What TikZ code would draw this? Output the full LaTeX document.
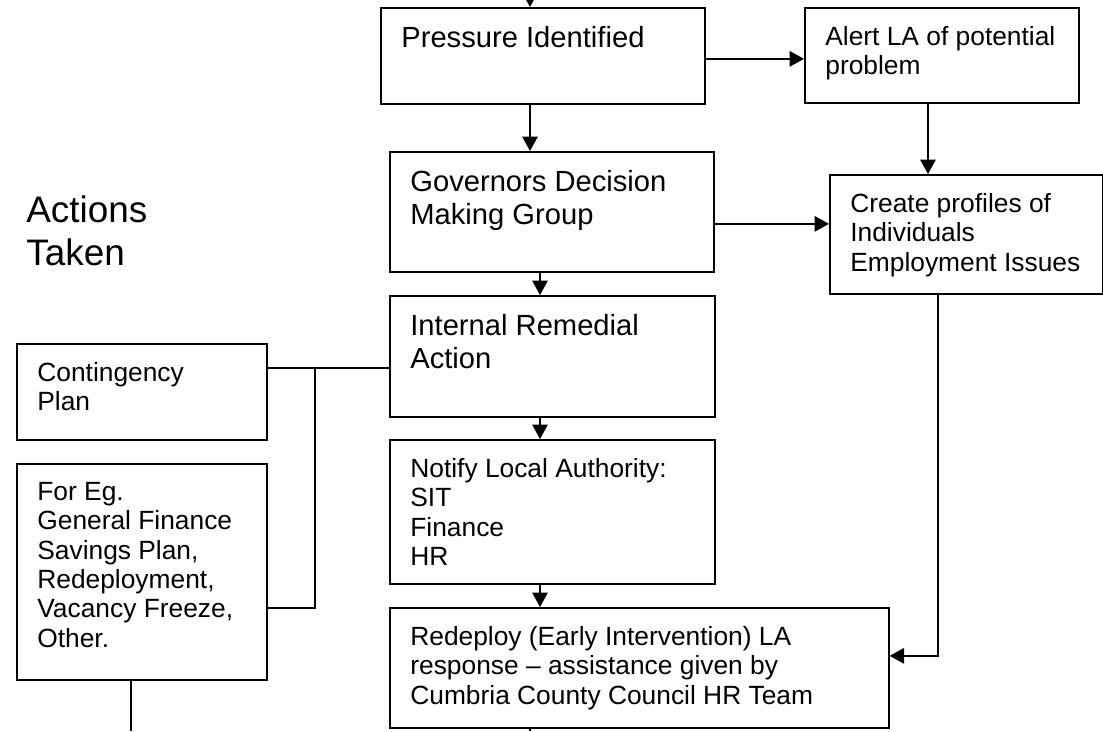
\documentclass[tikz,border=0pt]{standalone}
\usepackage{fontspec}
\setmainfont{Liberation Sans}
\usetikzlibrary{arrows.meta,calc}
\newcommand{\smalltxt}{\fontsize{15}{16.7}\selectfont}
\newcommand{\bigtxt}{\fontsize{16.6}{18.8}\selectfont}
\newcommand{\headtxt}{\fontsize{21}{24.5}\selectfont}
\tikzset{
  flowbox/.style={
    rectangle,
    draw=black,
    line width=1pt,
    anchor=north west,
    inner sep=0pt
  },
  boxtext/.style={anchor=north west, inner sep=0pt, xshift=0.42cm, yshift=-0.38cm, align=left, font=\smalltxt},
  boxtextbig/.style={boxtext, font=\bigtxt},
  flowarrow/.style={-{Triangle[length=0.29cm, width=0.31cm]}, line width=1pt, draw=black},
  flowline/.style={line width=1pt, draw=black}
}

\begin{document}
\begin{tikzpicture}[x=0.02cm, y=-0.02cm]
\useasboundingbox (0,0) rectangle (1103,731);
\node[anchor=north west, inner sep=0pt, align=left, font=\headtxt] (actions) at (26,195) {Actions\\Taken};
\node[flowbox, minimum width=6.48cm, minimum height=1.92cm, label={[boxtextbig]north west:{Pressure Identified}}] (press) at (380,7) {};
\node[flowbox, minimum width=5.48cm, minimum height=1.9cm, label={[boxtext]north west:{Alert LA of potential\\problem}}] (alert) at (804,7) {};
\node[flowbox, minimum width=6.48cm, minimum height=2.4cm, label={[boxtextbig]north west:{Governors Decision\\Making Group}}] (gov) at (389,151) {};
\node[flowbox, minimum width=5.46cm, minimum height=2.38cm, label={[boxtext]north west:{Create profiles of\\Individuals\\Employment Issues}}] (create) at (829,174) {};
\node[flowbox, minimum width=6.5cm, minimum height=2.42cm, label={[boxtextbig]north west:{Internal Remedial\\Action}}] (internal) at (389,295) {};
\node[flowbox, minimum width=6.5cm, minimum height=2.88cm, label={[boxtext]north west:{Notify Local Authority:\\SIT\\Finance\\HR}}] (notify) at (389,439) {};
\node[flowbox, minimum width=9.98cm, minimum height=2.4cm, label={[boxtext]north west:{Redeploy (Early Intervention) LA\\response – assistance given by\\Cumbria County Council HR Team}}] (redeploy) at (389,607) {};
\node[flowbox, minimum width=5cm, minimum height=1.92cm, label={[boxtext]north west:{Contingency\\Plan}}] (cont) at (16,343) {};
\node[flowbox, minimum width=5cm, minimum height=4.32cm, label={[boxtext]north west:{For Eg.\\General Finance\\Savings Plan,\\Redeployment,\\Vacancy Freeze,\\Other.}}] (foreg) at (16,463) {};
% routing points
\coordinate (feed) at (530,0);
\coordinate (spine) at (540,0);
\coordinate (alertdrop) at (928,0);
\coordinate (profdrop) at (938,0);
\coordinate (sidebar) at (315,0);
\coordinate (pressout) at (530,731);
\coordinate (planout) at (131,731);
\coordinate (alertin) at ($(press.east)+(0,3)$);
\coordinate (govout) at ($(gov.east)+(0,12)$);
\coordinate (redin) at ($(redeploy.east)+(0,-12)$);
\coordinate (remout) at ($(internal.west)+(0,11.5)$);
\coordinate (planin) at ($(foreg.east)+(0,36)$);
\draw[flowarrow] (feed) -- (feed |- press.north);
\draw[flowarrow] (press.south -| feed) -- (gov.north -| feed);
\draw[flowarrow] (alertin) -- (alertin -| alert.west);
\draw[flowarrow] (alert.south -| alertdrop) -- (create.north -| alertdrop);
\draw[flowarrow] (govout) -- (govout -| create.west);
\draw[flowarrow] (gov.south -| spine) -- (internal.north -| spine);
\draw[flowarrow] (internal.south -| spine) -- (notify.north -| spine);
\draw[flowarrow] (notify.south -| spine) -- (redeploy.north -| spine);
\draw[flowline] (redeploy.south -| pressout) -- (pressout);
\draw[flowarrow] (create.south -| profdrop) |- (redin);
\draw[flowline] (remout) -- (remout -| cont.east);
\draw[flowline] (remout -| sidebar) |- (planin);
\draw[flowline] (foreg.south -| planout) -- (planout);
\end{tikzpicture}
\end{document}
